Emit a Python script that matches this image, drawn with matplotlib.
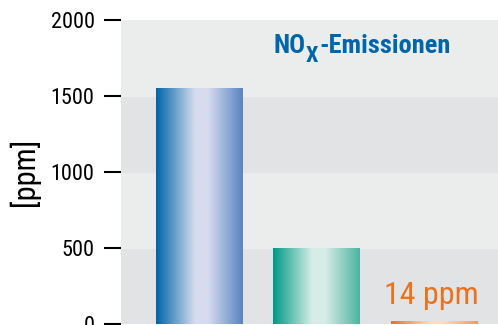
import matplotlib.pyplot as plt
import numpy as np
from matplotlib.colors import LinearSegmentedColormap

plt.rcParams['font.family'] = ['Roboto Condensed', 'DejaVu Sans']

# emission values in ppm
labels = ['A', 'B', 'C']
values = [1550, 495, 14]
yticks = [0, 500, 1000, 1500, 2000]

# left edge, light middle, right edge of each bar's gradient
shades = [
    ['#0063aa', '#d6dcee', '#d6dcee', '#5a84c2'],
    ['#009a85', '#d6ede7', '#d6ede7', '#4db4a1'],
    ['#e8731f', '#fbdcc2', '#fbdcc2', '#f09a5e'],
]
stops = [0.0, 0.45, 0.6, 1.0]
blue = '#0066aa'

fig = plt.figure(figsize=(4.98, 3.25), dpi=100)
ax = fig.add_axes([121 / 498, 1 / 325, 377 / 498, 304 / 325])

# alternating grey bands behind the bars
for lo, hi in zip(yticks[:-1], yticks[1:]):
    ax.axhspan(lo, hi, color='#e2e3e4' if (lo // 500) % 2 == 0 else '#ebecec', zorder=0)

x = np.arange(len(values))
bars = ax.bar(x, values, width=0.74, color='none', zorder=2)

# fill each bar with a horizontal gradient
grad = np.linspace(0, 1, 256).reshape(1, -1)
for b, cols in zip(bars, shades):
    cmap = LinearSegmentedColormap.from_list('g', list(zip(stops, cols)))
    x0, w, h = b.get_x(), b.get_width(), b.get_height()
    ax.imshow(grad, cmap=cmap, aspect='auto', extent=(x0, x0 + w, 0, h),
              interpolation='bilinear', zorder=2)

ax.set_xlim(-0.668, 2.541)
ax.set_ylim(0, 2000)
ax.set_xticks([])
ax.set_yticks(yticks)
ax.tick_params(axis='y', length=12, width=1.5, color='black', pad=7, labelsize=16)
for s in ax.spines.values():
    s.set_visible(False)
fig.text(24 / 498, 0.471, '[ppm]', rotation=90, fontsize=22, ha='center', va='center')

# title with subscript x
t = ax.text(0.626, 1783, 'NO', color=blue, fontsize=19, fontweight='bold',
            ha='left', va='baseline', zorder=3)
sub = ax.annotate('X', xy=(1, 0), xycoords=t, xytext=(0.5, -6.5),
                  textcoords='offset points', color=blue, fontsize=16,
                  fontweight='bold', ha='left', va='bottom')
ax.annotate('-Emissionen', xy=(1, 0), xycoords=sub, xytext=(0.5, 6.5),
            textcoords='offset points', color=blue, fontsize=19,
            fontweight='bold', ha='left', va='bottom')

# value label above the small bar
ax.annotate(f'{values[2]} ppm', xy=(x[2], values[2]), xytext=(-2, 13),
            textcoords='offset points', color='#e8731f', fontsize=23,
            ha='center', va='baseline')

fig.savefig('out.png', dpi=100)
